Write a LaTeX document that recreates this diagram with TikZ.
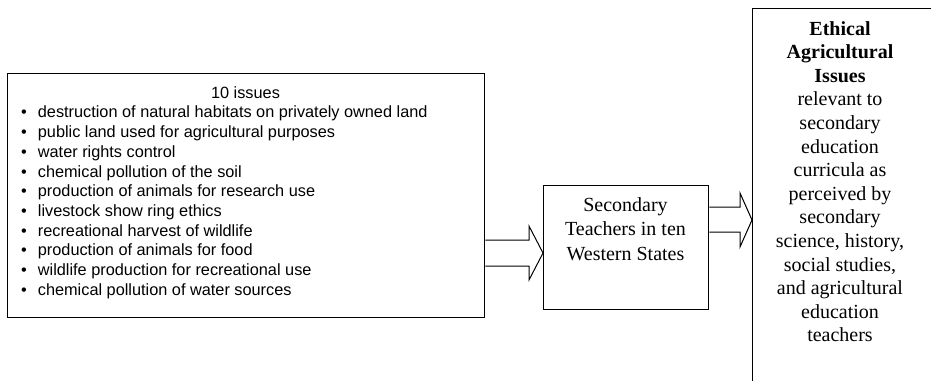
\documentclass[tikz,border=0pt]{standalone}
\usepackage{fontspec}
\setmainfont{Liberation Serif}
\newfontfamily\arialf{Liberation Sans}
\usetikzlibrary{calc}
\begin{document}
\begin{tikzpicture}[x=1pt,y=-1pt,
  box/.style={draw=black,line width=1.3pt,fill=white,inner sep=0pt},
  blockarrow/.style={draw=black,line width=1pt,fill=white,line join=miter},
  listfont/.style={font=\arialf\fontsize{16.3}{19.7}\selectfont},
  serif/.style={font=\fontsize{20}{24.5}\selectfont,align=center,inner sep=0pt}]
\useasboundingbox (0,0) rectangle (931,380);
\clip (0,0) rectangle (931,380);
\node[box, minimum width=477pt, minimum height=244pt, anchor=north west] (issues) at (7,73) {};
\node[box, minimum width=165pt, minimum height=124pt, anchor=north west] (teachers) at (543,185) {};
\node[box, minimum width=220pt, minimum height=420pt, anchor=north west] (ethical) at (752,8) {};

\node[listfont, anchor=base, inner sep=0pt] (title) at (245.5,98) {10 issues};
\node[listfont, anchor=north west, inner sep=0pt] (list) at (21,104) {%
\begin{tabular}{@{}l@{\hspace{11pt}}l@{}}
\textbullet & destruction of natural habitats on privately owned land\\
\textbullet & public land used for agricultural purposes\\
\textbullet & water rights control\\
\textbullet & chemical pollution of the soil\\
\textbullet & production of animals for research use\\
\textbullet & livestock show ring ethics\\
\textbullet & recreational harvest of wildlife\\
\textbullet & production of animals for food\\
\textbullet & wildlife production for recreational use\\
\textbullet & chemical pollution of water sources
\end{tabular}};

\node[serif, anchor=north] (tlabel) at (625.5,197) {Secondary\\Teachers in ten\\Western States};

\node[serif, anchor=north, font=\fontsize{20}{23.6}\selectfont] (elabel) at (840,21) {\textbf{Ethical}\\\textbf{Agricultural}\\\textbf{Issues}\\relevant to\\secondary\\education\\curricula as\\perceived by\\secondary\\science, history,\\social studies,\\and agricultural\\education\\teachers};

\draw[blockarrow] (issues.east |- 0,240) -- (529,240) -- (529,226) -- (teachers.west |- 0,253) -- (529,280) -- (529,266) -- (issues.east |- 0,266);
\draw[blockarrow] (teachers.east |- 0,207) -- (740,207) -- (740,193) -- (ethical.west |- 0,220) -- (740,247) -- (740,232) -- (teachers.east |- 0,232);
\end{tikzpicture}
\end{document}
